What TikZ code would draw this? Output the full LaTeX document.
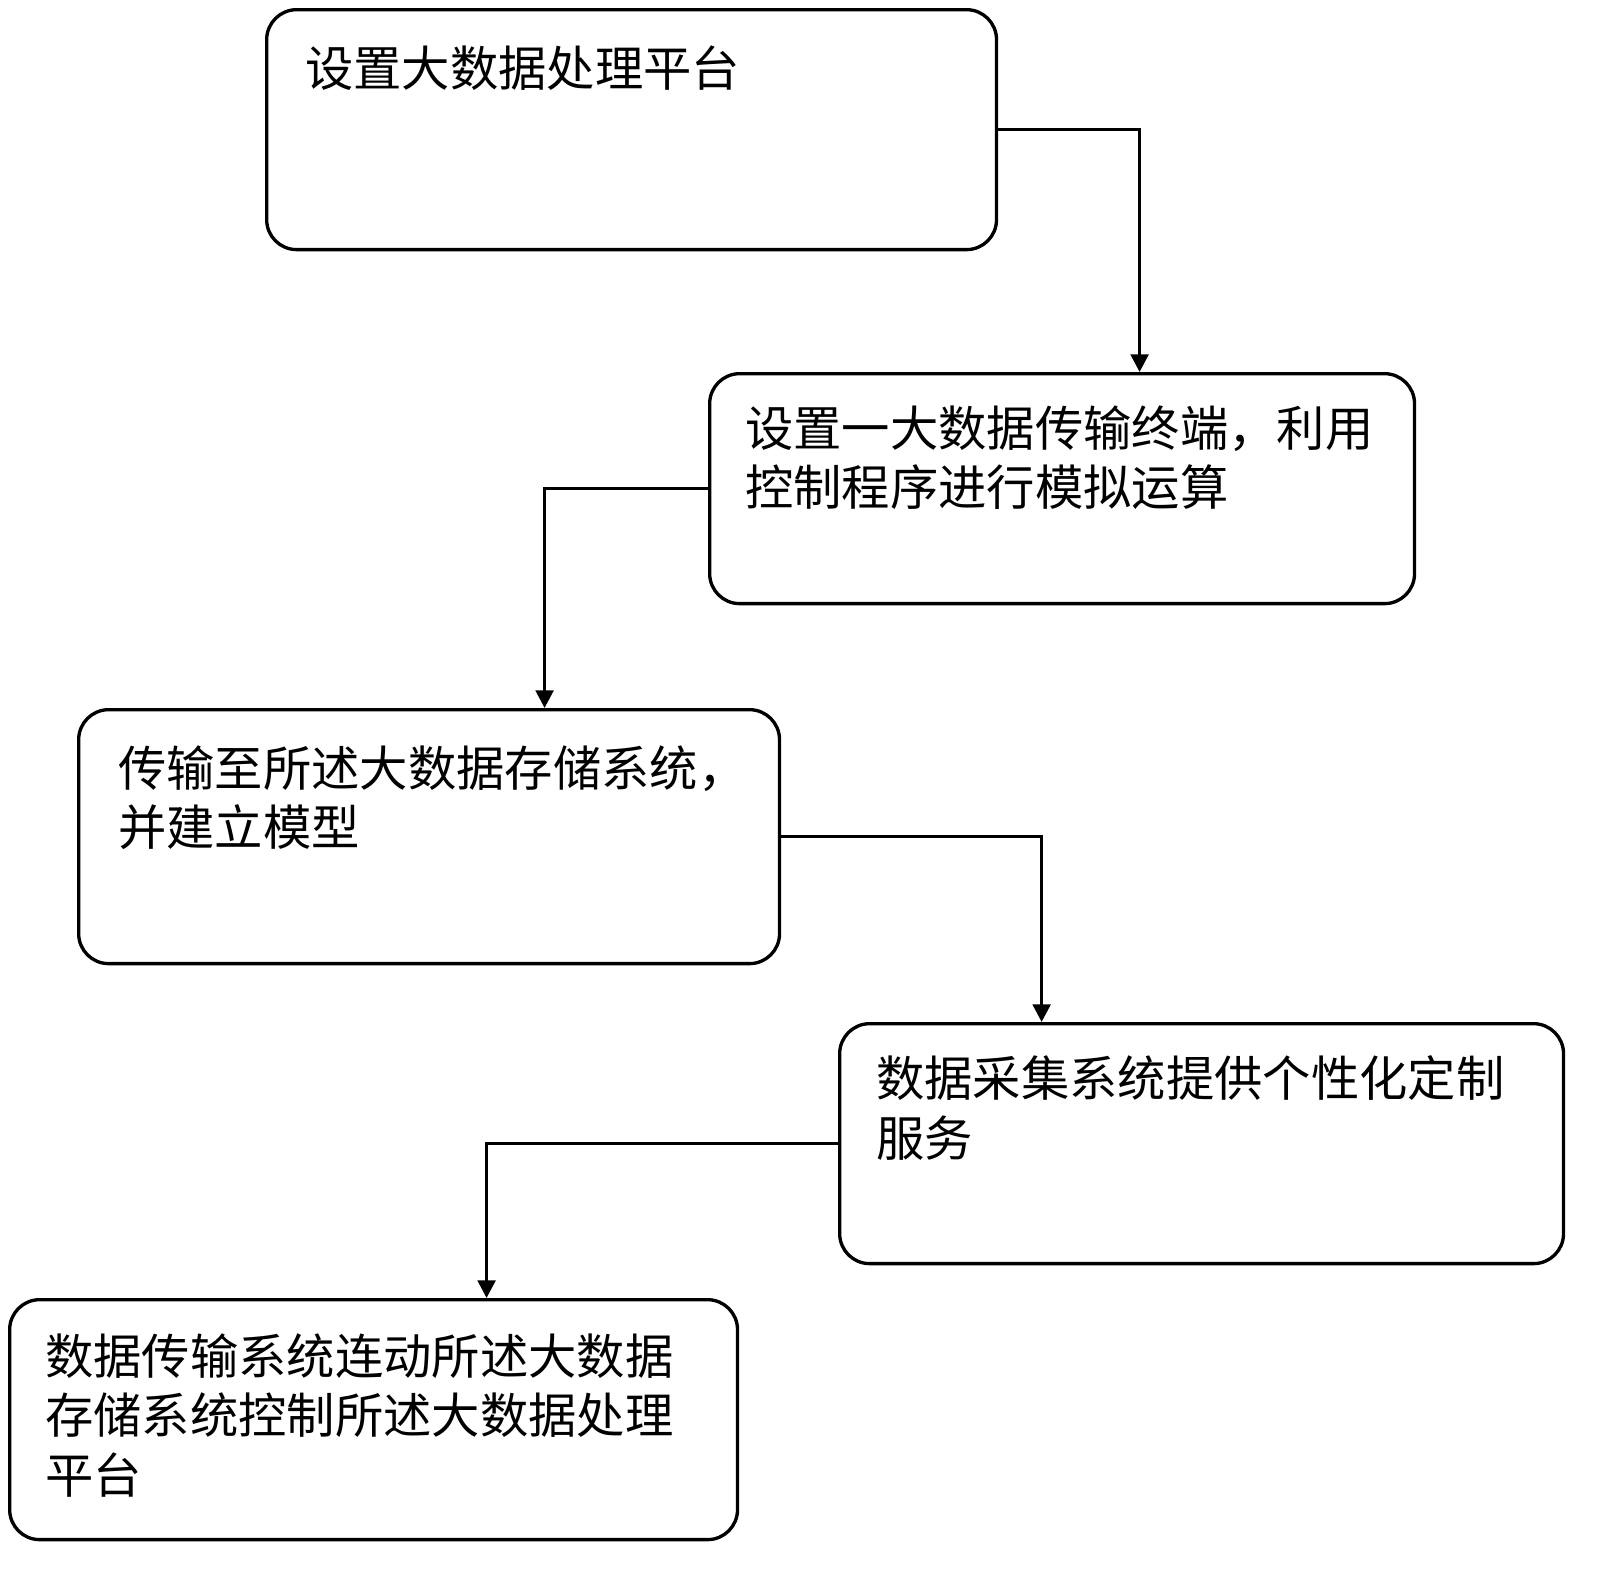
\documentclass[tikz,border=0pt]{standalone}
\usepackage{fontspec}
\setmainfont{Noto Sans CJK SC}
\usetikzlibrary{arrows.meta}
\tikzset{
  stepbox/.style={draw,line width=1.9pt,rounded corners=0.6cm,anchor=north west,inner sep=0pt},
  steptext/.style={anchor=north west,align=left,inner sep=0pt,font=\fontsize{27.5pt}{34pt}\selectfont},
  flow/.style={line width=1.9pt,-{Triangle[length=10pt,width=10pt]}}
}
\begin{document}
\begin{tikzpicture}[x=0.02cm,y=-0.02cm]
  \useasboundingbox (0,0) rectangle (1616,1592);

  \node[stepbox,minimum width=14.6cm,minimum height=4.8cm] (b1) at (265,8) {};
  \node[stepbox,minimum width=14.1cm,minimum height=4.6cm] (b2) at (708,372) {};
  \node[stepbox,minimum width=14.02cm,minimum height=5.08cm] (b3) at (77,708) {};
  \node[stepbox,minimum width=14.48cm,minimum height=4.8cm] (b4) at (838,1022) {};
  \node[stepbox,minimum width=14.56cm,minimum height=4.8cm] (b5) at (8,1298) {};

  \node[steptext] (t1) at (305,45) {设置大数据处理平台};
  \node[steptext] (t2) at (745,405) {设置一大数据传输终端，利用\\控制程序进行模拟运算};
  \node[steptext] (t3) at (118,745) {传输至所述大数据存储系统，\\并建立模型};
  \node[steptext] (t4) at (876,1055) {数据采集系统提供个性化定制\\服务};
  \node[steptext] (t5) at (45,1333) {数据传输系统连动所述大数据\\存储系统控制所述大数据处理\\平台};

  \draw[flow] (b1.east) -| ([xshift=1.55cm]b2.north);
  \draw[flow] (b2.west) -| ([xshift=2.31cm]b3.north);
  \draw[flow] (b3.east) -| ([xshift=-3.2cm]b4.north);
  \draw[flow] (b4.west) -| ([xshift=2.26cm]b5.north);

\end{tikzpicture}
\end{document}
